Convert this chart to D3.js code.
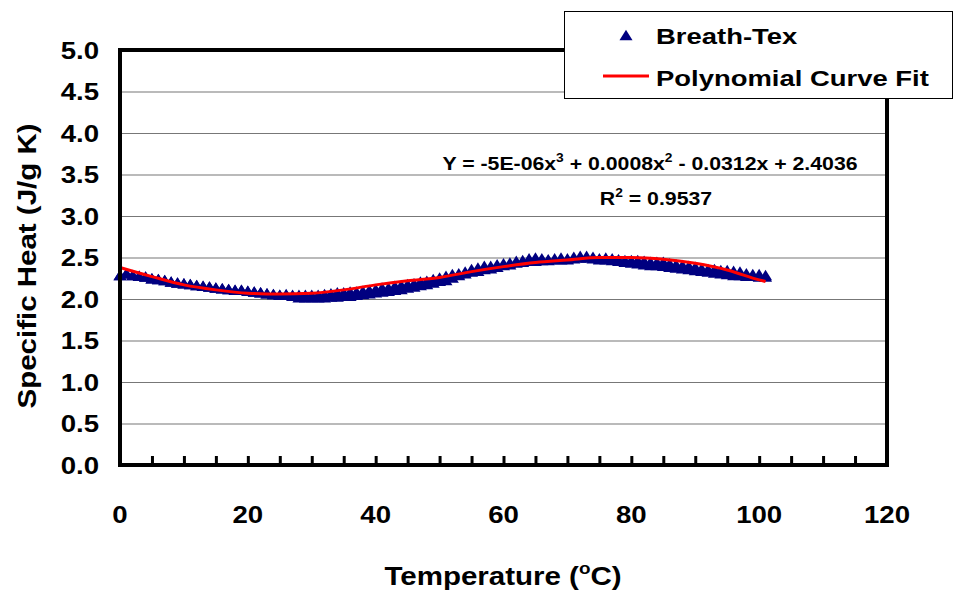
<!DOCTYPE html>
<html>
<head>
<meta charset="utf-8">
<script src="https://cdn.jsdelivr.net/npm/d3@7"></script>
<style>
  html, body { margin: 0; padding: 0; background: #fff; }
  svg text { font-family: Arial, "Liberation Sans", sans-serif; font-weight: bold; fill: #000; }
</style>
</head>
<body>
<div id="chart"></div>
<script>
// Breath-Tex measured points (temperature in C, specific heat in J/g K)
// two readings per temperature: upper and lower edge of the marker band
var breathTexTemp = [
  0, 1, 2, 3, 4, 5, 6, 7, 8, 9, 10, 11, 12, 13, 14, 15, 16, 17, 18, 19,
  20, 21, 22, 23, 24, 25, 26, 27, 28, 29, 30, 31, 32, 33, 34, 35, 36, 37, 38, 39,
  40, 41, 42, 43, 44, 45, 46, 47, 48, 49, 50, 51, 52, 53, 54, 55, 56, 57, 58, 59,
  60, 61, 62, 63, 64, 65, 66, 67, 68, 69, 70, 71, 72, 73, 74, 75, 76, 77, 78, 79,
  80, 81, 82, 83, 84, 85, 86, 87, 88, 89, 90, 91, 92, 93, 94, 95, 96, 97, 98, 99,
  100, 101
];
var breathTexHeatUpper = [
  2.29, 2.31, 2.29, 2.28, 2.27, 2.25, 2.24, 2.23, 2.21, 2.20, 2.19, 2.18, 2.17, 2.16, 2.15, 2.14, 2.13, 2.12, 2.11, 2.11,
  2.10, 2.09, 2.08, 2.07, 2.06, 2.05, 2.06, 2.05, 2.05, 2.05, 2.05, 2.05, 2.06, 2.07, 2.08, 2.08, 2.09, 2.09, 2.10, 2.11,
  2.12, 2.14, 2.14, 2.16, 2.17, 2.18, 2.19, 2.21, 2.22, 2.24, 2.26, 2.28, 2.30, 2.31, 2.33, 2.36, 2.38, 2.40, 2.40, 2.42,
  2.43, 2.44, 2.46, 2.47, 2.49, 2.50, 2.49, 2.48, 2.49, 2.50, 2.49, 2.51, 2.52, 2.52, 2.51, 2.49, 2.50, 2.49, 2.48, 2.47,
  2.47, 2.47, 2.46, 2.45, 2.45, 2.45, 2.43, 2.42, 2.41, 2.40, 2.39, 2.37, 2.36, 2.36, 2.35, 2.35, 2.34, 2.33, 2.31, 2.30,
  2.30, 2.29
];
var breathTexHeatLower = [
  2.29, 2.31, 2.29, 2.28, 2.27, 2.25, 2.24, 2.23, 2.21, 2.20, 2.19, 2.18, 2.17, 2.16, 2.15, 2.14, 2.13, 2.12, 2.11, 2.11,
  2.10, 2.09, 2.08, 2.07, 2.06, 2.05, 2.05, 2.04, 2.02, 2.02, 2.02, 2.02, 2.02, 2.03, 2.03, 2.04, 2.04, 2.05, 2.06, 2.07,
  2.08, 2.09, 2.10, 2.11, 2.12, 2.14, 2.15, 2.17, 2.18, 2.20, 2.22, 2.23, 2.26, 2.29, 2.31, 2.33, 2.34, 2.36, 2.37, 2.39,
  2.41, 2.42, 2.44, 2.45, 2.46, 2.46, 2.47, 2.47, 2.48, 2.48, 2.48, 2.49, 2.50, 2.50, 2.49, 2.48, 2.48, 2.47, 2.46, 2.45,
  2.44, 2.43, 2.42, 2.41, 2.41, 2.40, 2.39, 2.38, 2.37, 2.36, 2.35, 2.34, 2.33, 2.32, 2.31, 2.30, 2.29, 2.29, 2.28, 2.28,
  2.27, 2.27
];

// Polynomial curve fit
var fitTemp = [0, 5, 10, 15, 20, 25, 30, 35, 40, 45, 50, 55, 60, 65, 70, 75, 80, 85, 90, 95, 100, 101];
var fitHeat = [2.38, 2.27, 2.17, 2.11, 2.07, 2.06, 2.07, 2.11, 2.17, 2.22, 2.26, 2.33, 2.39, 2.44, 2.47, 2.50, 2.50, 2.48, 2.43, 2.35, 2.23, 2.21];

var xTicks = [0, 20, 40, 60, 80, 100, 120];
var xMinorTicks = [5, 10, 15, 20, 25, 30, 35, 40, 45, 50, 55, 60, 65, 70, 75, 80, 85, 90, 95, 100, 105, 110, 115];
var yTicks = [0, 0.5, 1, 1.5, 2, 2.5, 3, 3.5, 4, 4.5, 5];
var yGrid = [0.5, 1, 1.5, 2, 2.5, 3, 3.5, 4, 4.5];

var seriesNames = ["Breath-Tex", "Polynomial Curve Fit"];
var equationParts = ["Y = -5E-06x", "3", " + 0.0008x", "2", " - 0.0312x + 2.4036"];
var rSquaredParts = ["R", "2", " = 0.9537"];

var width = 953, height = 591;
var plot = {left: 120, right: 887, top: 50, bottom: 465};

var svg = d3.select("#chart").append("svg")
    .attr("width", width)
    .attr("height", height);

var x = d3.scaleLinear().domain([0, 120]).range([plot.left, plot.right]);
var y = d3.scaleLinear().domain([0, 5]).range([plot.bottom, plot.top]);

// text helper: the original chart is stretched sideways a bit
function stretchText(parent, px, py, size, sx, anchor, rotate) {
    var g = parent.append("g")
        .attr("transform", "translate(" + px + "," + py + ")" + (rotate ? " rotate(" + rotate + ")" : "") + " scale(" + sx + ",1)");
    return g.append("text")
        .attr("text-anchor", anchor)
        .style("font-size", size + "px");
}

// triangle marker, centred on its box like Excel does
var triangle = {
    draw: function(context, size) {
        var w = 13, h = 10.5;
        context.moveTo(0, -h / 2);
        context.lineTo(w / 2, h / 2);
        context.lineTo(-w / 2, h / 2);
        context.closePath();
    }
};
var tri = d3.symbol().type(triangle);

// gridlines
svg.append("g")
    .attr("transform", "translate(" + plot.left + ",0)")
    .call(d3.axisLeft(y).tickValues(yGrid).tickSize(-(plot.right - plot.left)).tickFormat(""))
    .call(function(g) {
        g.select(".domain").remove();
        g.selectAll("line").attr("stroke", "#777").attr("stroke-width", 1.2);
    });

// y tick labels
yTicks.forEach(function(v) {
    stretchText(svg, 99, y(v) + 8.5, 24, 1.15, "end").text(d3.format(".1f")(v));
});

// x tick labels
xTicks.forEach(function(v) {
    stretchText(svg, x(v), 523, 24, 1.15, "middle").text(v);
});

// series markers (lower readings first, upper on top)
[breathTexHeatLower, breathTexHeatUpper].forEach(function(heat) {
    svg.append("g").selectAll("path")
        .data(breathTexTemp)
        .enter()
        .append("path")
        .attr("d", tri)
        .attr("transform", function(d, i) { return "translate(" + x(d) + "," + y(heat[i]) + ")"; })
        .attr("fill", "#000080");
});

// trendline
var fitLine = d3.line()
    .x(function(d) { return x(d); })
    .y(function(d, i) { return y(fitHeat[i]); })
    .curve(d3.curveMonotoneX);

svg.append("path")
    .attr("d", fitLine(fitTemp))
    .attr("fill", "none")
    .attr("stroke", "#ff0000")
    .attr("stroke-width", 3);

// minor ticks on the bottom axis, pointing up
svg.append("g")
    .attr("transform", "translate(0," + plot.bottom + ")")
    .call(d3.axisTop(x).tickValues(xMinorTicks).tickSize(9).tickFormat(""))
    .call(function(g) {
        g.select(".domain").remove();
        g.selectAll("line").attr("stroke", "#000").attr("stroke-width", 3);
    });

// plot frame
svg.append("rect")
    .attr("x", plot.left)
    .attr("y", plot.top)
    .attr("width", plot.right - plot.left)
    .attr("height", plot.bottom - plot.top)
    .attr("fill", "none")
    .attr("stroke", "#000")
    .attr("stroke-width", 4);

// equation + R squared
var eq = stretchText(svg, 650, 170, 18.5, 1.15, "middle");
eq.append("tspan").text(equationParts[0]);
eq.append("tspan").attr("dy", -8).style("font-size", "12px").text(equationParts[1]);
eq.append("tspan").attr("dy", 8).text(equationParts[2]);
eq.append("tspan").attr("dy", -8).style("font-size", "12px").text(equationParts[3]);
eq.append("tspan").attr("dy", 8).text(equationParts[4]);

var r2 = stretchText(svg, 656, 205, 18.5, 1.15, "middle");
r2.append("tspan").text(rSquaredParts[0]);
r2.append("tspan").attr("dy", -8).style("font-size", "12px").text(rSquaredParts[1]);
r2.append("tspan").attr("dy", 8).text(rSquaredParts[2]);

// legend
var legend = svg.append("g");
legend.append("rect")
    .attr("x", 564.5).attr("y", 11.5)
    .attr("width", 388).attr("height", 87)
    .attr("fill", "#fff")
    .attr("stroke", "#000")
    .attr("stroke-width", 1);
legend.append("path")
    .attr("d", tri)
    .attr("transform", "translate(626,35)")
    .attr("fill", "#000080");
legend.append("line")
    .attr("x1", 603).attr("x2", 649)
    .attr("y1", 76).attr("y2", 76)
    .attr("stroke", "#ff0000")
    .attr("stroke-width", 3);
stretchText(legend, 656, 44, 22.5, 1.22, "start").text(seriesNames[0]);
stretchText(legend, 656, 86, 22.5, 1.22, "start").text(seriesNames[1]);

// axis titles
var xt = stretchText(svg, 503, 585, 25, 1.18, "middle");
xt.append("tspan").text("Temperature (");
xt.append("tspan").attr("dy", -11).style("font-size", "16px").text("o");
xt.append("tspan").attr("dy", 11).text("C)");

stretchText(svg, 36, 266, 25, 1.18, "middle", -90).text("Specific Heat (J/g K)");
</script>
</body>
</html>
